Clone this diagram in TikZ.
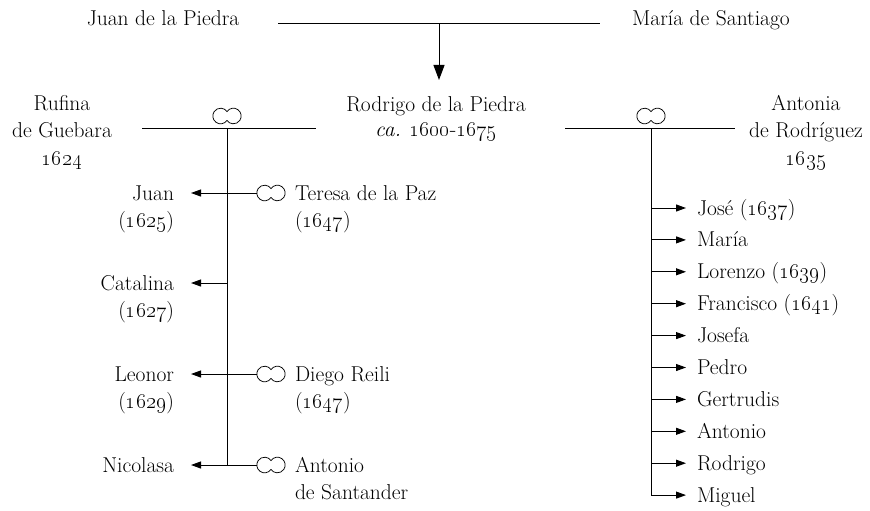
\RequirePackage{fix-cm}
\documentclass[tikz,border=0pt]{standalone}
\usetikzlibrary{arrows.meta}
\newcommand\osn[1]{\oldstylenums{#1}}
\newcommand\marsym[1]{\draw[symln, shift={(#1.center)}] (-6.4,0) ++(35:7.8) arc[start angle=35,end angle=325,radius=7.8] arc[start angle=-145,end angle=145,radius=7.8];}
\begin{document}
\begin{tikzpicture}[x=1pt,y=-1pt,
  every node/.style={inner sep=0pt, outer sep=0pt, font=\fontsize{21.5}{27.5}\selectfont},
  ln/.style={line width=1pt},
  symln/.style={line width=0.75pt},
  bigarr/.style={ln,-{Triangle[length=15pt,width=11pt]}},
  smarr/.style={ln,-{Triangle[length=10pt,width=7pt]}},
  marr/.style={minimum width=29pt, minimum height=16pt},
]
\useasboundingbox (0,0) rectangle (870,511);
% top generation
\node[anchor=base] (juanP) at (163,26) {Juan de la Piedra};
\node[anchor=base] (mariaS) at (711,26) {María de Santiago};
\coordinate (tl) at (278,24);
\coordinate (tr) at (600,24);
\coordinate (tm) at (439,24);
\draw[ln] (tl) -- (tr);
% base anchor of a multi-line node = baseline of its last line
\node[anchor=base, align=center, font=\fontsize{21.5}{25}\selectfont] (rod) at (436,136) {Rodrigo de la Piedra\\\textit{ca.} \osn{1600}-\osn{1675}};
\draw[bigarr] (tm) -- (439,80);
% spouses
\node[anchor=base, align=center] (rufina) at (62,165) {Rufina\\de Guebara\\\osn{1624}};
\node[anchor=base, align=center] (antonia) at (806,165) {Antonia\\de Rodríguez\\\osn{1635}};
\coordinate (ll) at (142,128);
\coordinate (lr) at (316,128);
\coordinate (lv) at (227,128);
\coordinate (rl) at (565,128);
\coordinate (rr) at (735,128);
\coordinate (rv) at (651,128);
\draw[ln] (ll) -- (lr);
\draw[ln] (rl) -- (rr);
\node[marr] (mL) at (227,116) {};
\node[marr] (mR) at (651,116) {};
\marsym{mL}
\marsym{mR}
% left children
\coordinate (j1) at (227,193);
\coordinate (j2) at (227,283);
\coordinate (j3) at (227,374);
\coordinate (j4) at (227,465);
\draw[ln] (lv) -- (j4);
\node[anchor=base east, align=right] (juan) at (174,227.5) {Juan\\(\osn{1625})};
\node[anchor=base east, align=right] (catalina) at (174,317.5) {Catalina\\(\osn{1627})};
\node[anchor=base east, align=right] (leonor) at (174,408.5) {Leonor\\(\osn{1629})};
\node[anchor=base east, align=right] (nicolasa) at (174,472) {Nicolasa};
\draw[smarr] (j1) -- (191,193);
\draw[smarr] (j2) -- (191,283);
\draw[smarr] (j3) -- (191,374);
\draw[smarr] (j4) -- (191,465);
\node[marr] (s1) at (271,193) {};
\node[marr] (s3) at (271,374) {};
\node[marr] (s4) at (271,465) {};
\marsym{s1}
\marsym{s3}
\marsym{s4}
\draw[ln] (j1) -- (s1.west);
\draw[ln] (j3) -- (s3.west);
\draw[ln] (j4) -- (s4.west);
\node[anchor=base west, align=left] (teresa) at (295,227.5) {Teresa de la Paz\\(\osn{1647})};
\node[anchor=base west, align=left] (diego) at (295,408.5) {Diego Reili\\(\osn{1647})};
\node[anchor=base west, align=left] (santander) at (295,499.5) {Antonio\\de Santander};
% right children
\coordinate (k10) at (651,495);
\draw[ln] (rv) -- (k10);
\foreach \i/\t in {1/{José (\osn{1637})},2/{María},3/{Lorenzo (\osn{1639})},4/{Francisco (\osn{1641})},5/{Josefa},6/{Pedro},7/{Gertrudis},8/{Antonio},9/{Rodrigo},10/{Miguel}}{
  \pgfmathsetmacro\yy{208+(\i-1)*31.9}
  \coordinate (k\i) at (651,\yy);
  \node[anchor=base west] (c\i) at (697,\yy+7) {\t};
  \draw[smarr] (k\i) -- (686,\yy);
}
\end{tikzpicture}
\end{document}
